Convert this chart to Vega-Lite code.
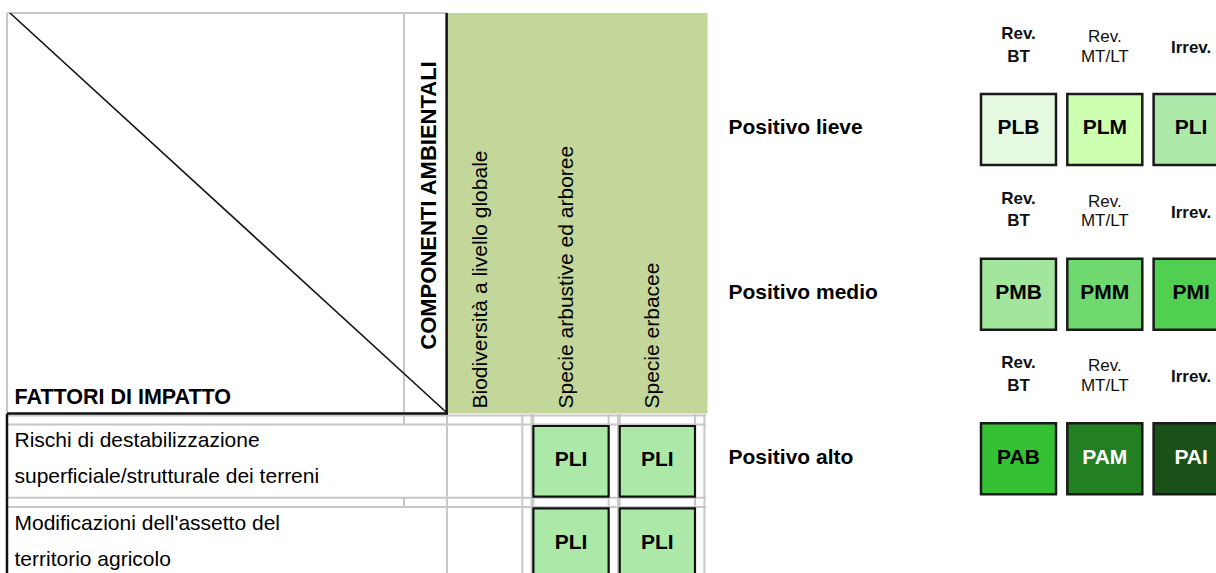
{
  "$schema": "https://vega.github.io/schema/vega-lite/v6.json",
  "width": 1216,
  "height": 573,
  "padding": 0,
  "autosize": {"type": "none"},
  "background": "white",
  "config": {
    "view": {"stroke": null},
    "font": "Liberation Sans",
    "text": {"font": "Liberation Sans", "color": "#000"}
  },
  "datasets": {
    "matrice": [
      {"fattore": "Rischi di destabilizzazione\nsuperficiale/strutturale dei terreni", "componente": "Biodiversità a livello globale", "impatto": null},
      {"fattore": "Rischi di destabilizzazione\nsuperficiale/strutturale dei terreni", "componente": "Specie arbustive ed arboree", "impatto": "PLI"},
      {"fattore": "Rischi di destabilizzazione\nsuperficiale/strutturale dei terreni", "componente": "Specie erbacee", "impatto": "PLI"},
      {"fattore": "Modificazioni dell'assetto del\nterritorio agricolo", "componente": "Biodiversità a livello globale", "impatto": null},
      {"fattore": "Modificazioni dell'assetto del\nterritorio agricolo", "componente": "Specie arbustive ed arboree", "impatto": "PLI"},
      {"fattore": "Modificazioni dell'assetto del\nterritorio agricolo", "componente": "Specie erbacee", "impatto": "PLI"}
    ],
    "legenda": [
      {"intensita": "Positivo lieve", "reversibilita": "Rev. BT", "codice": "PLB"},
      {"intensita": "Positivo lieve", "reversibilita": "Rev. MT/LT", "codice": "PLM"},
      {"intensita": "Positivo lieve", "reversibilita": "Irrev.", "codice": "PLI"},
      {"intensita": "Positivo medio", "reversibilita": "Rev. BT", "codice": "PMB"},
      {"intensita": "Positivo medio", "reversibilita": "Rev. MT/LT", "codice": "PMM"},
      {"intensita": "Positivo medio", "reversibilita": "Irrev.", "codice": "PMI"},
      {"intensita": "Positivo alto", "reversibilita": "Rev. BT", "codice": "PAB"},
      {"intensita": "Positivo alto", "reversibilita": "Rev. MT/LT", "codice": "PAM"},
      {"intensita": "Positivo alto", "reversibilita": "Irrev.", "codice": "PAI"}
    ],
    "cella": [{}]
  },
  "resolve": {"scale": {"x": "independent", "y": "independent"}, "axis": {"x": "independent", "y": "independent"}},
  "layer": [
    {
      "data": {"name": "matrice"},
      "layer": [
        {
          "mark": {"type": "rule", "color": "#C8C8C8", "strokeWidth": 2},
          "encoding": {
            "x": {
              "field": "componente", "type": "nominal", "bandPosition": 0,
              "scale": {"domain": ["Biodiversità a livello globale", "Specie arbustive ed arboree", "Specie erbacee"], "range": [447, 695], "paddingInner": 0.1285, "paddingOuter": 0},
              "axis": {
                "orient": "top", "offset": -408, "domain": false, "ticks": false, "grid": false,
                "labelAngle": 270, "labelAlign": "left", "labelBaseline": "middle", "labelPadding": 0, "labelOffset": -4,
                "labelFont": "Liberation Sans", "labelFontSize": 21, "labelColor": "#000", "labelLimit": 1000, "labelOverlap": false, "labelBound": false, "labelFlush": false,
                "title": "COMPONENTI AMBIENTALI", "titleAngle": 270, "titleX": 428, "titleY": -203, "titleAlign": "center", "titleBaseline": "middle",
                "titleFont": "Liberation Sans", "titleFontSize": 22, "titleFontWeight": "bold", "titleColor": "#000", "zindex": 2
              }
            },
            "y": {
              "field": "fattore", "type": "nominal", "bandPosition": -0.17,
              "scale": {"domain": ["Rischi di destabilizzazione\nsuperficiale/strutturale dei terreni", "Modificazioni dell'assetto del\nterritorio agricolo"], "range": [426, 579], "paddingInner": 0.141, "paddingOuter": 0},
              "axis": {
                "orient": "left", "offset": 0, "domain": false, "ticks": false, "grid": false,
                "labelAlign": "left", "labelBaseline": "middle", "labelPadding": -14, "labelLineHeight": 36, "labelOffset": -20,
                "labelFont": "Liberation Sans", "labelFontSize": 21, "labelColor": "#000", "labelLimit": 1000, "labelOverlap": false, "labelBound": false,
                "labelExpr": "split(datum.label, '\\n')",
                "title": "FATTORI DI IMPATTO", "titleAngle": 0, "titleX": 14, "titleY": 403, "titleAlign": "left", "titleBaseline": "alphabetic",
                "titleFont": "Liberation Sans", "titleFontSize": 21.5, "titleFontWeight": "bold", "titleColor": "#000", "zindex": 2
              }
            },
            "y2": {"field": "fattore", "bandPosition": 1.0}
          }
        },
        {
          "mark": {"type": "rule", "color": "#C8C8C8", "strokeWidth": 2},
          "encoding": {
            "x": {"field": "componente", "type": "nominal", "bandPosition": 1},
            "y": {"field": "fattore", "type": "nominal", "bandPosition": -0.17},
            "y2": {"field": "fattore", "bandPosition": 1.0}
          }
        },
        {
          "mark": {"type": "rule", "color": "#C8C8C8", "strokeWidth": 2},
          "encoding": {
            "x": {"field": "componente", "type": "nominal", "bandPosition": 1.125},
            "y": {"field": "fattore", "type": "nominal", "bandPosition": -0.17},
            "y2": {"field": "fattore", "bandPosition": 1.0}
          }
        },
        {
          "transform": [{"filter": {"field": "componente", "equal": "Biodiversità a livello globale"}}],
          "mark": {"type": "rule", "color": "#C8C8C8", "strokeWidth": 2},
          "encoding": {
            "y": {"field": "fattore", "type": "nominal", "bandPosition": -0.15},
            "x": {"datum": "Biodiversità a livello globale", "type": "nominal", "bandPosition": -5.846},
            "x2": {"datum": "Specie erbacee", "bandPosition": 1.147}
          }
        },
        {
          "transform": [{"filter": {"field": "componente", "equal": "Biodiversità a livello globale"}}],
          "mark": {"type": "rule", "color": "#C8C8C8", "strokeWidth": 2},
          "encoding": {
            "y": {"field": "fattore", "type": "nominal", "bandPosition": -0.02},
            "x": {"datum": "Biodiversità a livello globale", "type": "nominal", "bandPosition": -5.846},
            "x2": {"datum": "Specie erbacee", "bandPosition": 1.147}
          }
        },
        {
          "transform": [{"filter": {"field": "componente", "equal": "Biodiversità a livello globale"}}],
          "mark": {"type": "rule", "color": "#C8C8C8", "strokeWidth": 2},
          "encoding": {
            "x": {"datum": "Biodiversità a livello globale", "type": "nominal", "bandPosition": -0.5713},
            "y": {"field": "fattore", "type": "nominal", "bandPosition": -0.15},
            "y2": {"field": "fattore", "bandPosition": -0.02}
          }
        },
        {
          "transform": [{"filter": {"field": "componente", "equal": "Biodiversità a livello globale"}}],
          "mark": {"type": "rule", "color": "#111", "strokeWidth": 2.5},
          "encoding": {
            "x": {"datum": "Biodiversità a livello globale", "type": "nominal", "bandPosition": -5.846},
            "y": {"field": "fattore", "type": "nominal", "bandPosition": -0.17},
            "y2": {"field": "fattore", "bandPosition": 1.0}
          }
        },
        {
          "data": {"name": "cella"},
          "mark": {"type": "rect", "color": "#C4D79B"},
          "encoding": {
            "x": {"datum": "Biodiversità a livello globale", "type": "nominal", "bandPosition": 0},
            "x2": {"datum": "Specie erbacee", "bandPosition": 1.166},
            "y": {"datum": "Rischi di destabilizzazione\nsuperficiale/strutturale dei terreni", "type": "nominal", "bandPosition": -5.8416},
            "y2": {"datum": "Rischi di destabilizzazione\nsuperficiale/strutturale dei terreni", "bandPosition": -0.1768}
          }
        },
        {
          "data": {"name": "cella"},
          "mark": {"type": "rule", "color": "#C8C8C8", "strokeWidth": 2},
          "encoding": {
            "x": {"datum": "Biodiversità a livello globale", "type": "nominal", "bandPosition": -5.846},
            "x2": {"datum": "Biodiversità a livello globale", "bandPosition": 0},
            "y": {"datum": "Rischi di destabilizzazione\nsuperficiale/strutturale dei terreni", "type": "nominal", "bandPosition": -5.8416}
          }
        },
        {
          "data": {"name": "cella"},
          "mark": {"type": "rule", "color": "#C8C8C8", "strokeWidth": 2},
          "encoding": {
            "x": {"datum": "Biodiversità a livello globale", "type": "nominal", "bandPosition": -5.846},
            "y": {"datum": "Rischi di destabilizzazione\nsuperficiale/strutturale dei terreni", "type": "nominal", "bandPosition": -5.8416},
            "y2": {"datum": "Rischi di destabilizzazione\nsuperficiale/strutturale dei terreni", "bandPosition": -0.17}
          }
        },
        {
          "data": {"name": "cella"},
          "mark": {"type": "rule", "color": "#C8C8C8", "strokeWidth": 2},
          "encoding": {
            "x": {"datum": "Biodiversità a livello globale", "type": "nominal", "bandPosition": -0.5713},
            "y": {"datum": "Rischi di destabilizzazione\nsuperficiale/strutturale dei terreni", "type": "nominal", "bandPosition": -5.8416},
            "y2": {"datum": "Rischi di destabilizzazione\nsuperficiale/strutturale dei terreni", "bandPosition": -0.17}
          }
        },
        {
          "data": {"name": "cella"},
          "mark": {"type": "rule", "color": "#111", "strokeWidth": 2.5},
          "encoding": {
            "x": {"datum": "Biodiversità a livello globale", "type": "nominal", "bandPosition": -0.005},
            "y": {"datum": "Rischi di destabilizzazione\nsuperficiale/strutturale dei terreni", "type": "nominal", "bandPosition": -5.8416},
            "y2": {"datum": "Rischi di destabilizzazione\nsuperficiale/strutturale dei terreni", "bandPosition": -0.165}
          }
        },
        {
          "data": {"name": "cella"},
          "mark": {"type": "rule", "color": "#111", "strokeWidth": 2.5},
          "encoding": {
            "x": {"datum": "Biodiversità a livello globale", "type": "nominal", "bandPosition": -5.846},
            "x2": {"datum": "Biodiversità a livello globale", "bandPosition": 0.012},
            "y": {"datum": "Rischi di destabilizzazione\nsuperficiale/strutturale dei terreni", "type": "nominal", "bandPosition": -0.1768}
          }
        },
        {
          "data": {"name": "cella"},
          "mark": {"type": "rule", "color": "#111", "strokeWidth": 1.6},
          "encoding": {
            "x": {"datum": "Biodiversità a livello globale", "type": "nominal", "bandPosition": -5.806},
            "x2": {"datum": "Biodiversità a livello globale", "bandPosition": -0.0133},
            "y": {"datum": "Rischi di destabilizzazione\nsuperficiale/strutturale dei terreni", "type": "nominal", "bandPosition": -5.8416},
            "y2": {"datum": "Rischi di destabilizzazione\nsuperficiale/strutturale dei terreni", "bandPosition": -0.198}
          }
        },
        {
          "transform": [{"filter": "isValid(datum.impatto)"}],
          "mark": {"type": "rect", "stroke": "#111", "strokeWidth": 2.2},
          "encoding": {
            "x": {"field": "componente", "type": "nominal"},
            "y": {"field": "fattore", "type": "nominal"},
            "fill": {
              "field": "impatto", "type": "nominal", "legend": null,
              "scale": {"domain": ["PLB", "PLM", "PLI", "PMB", "PMM", "PMI", "PAB", "PAM", "PAI"], "range": ["#E5F9E0", "#CCFFB0", "#ACE9A9", "#A2E59D", "#6FD96F", "#50CF50", "#34C234", "#227F22", "#195119"]}
            }
          }
        },
        {
          "transform": [{"filter": "isValid(datum.impatto)"}],
          "mark": {"type": "text", "fontSize": 21, "fontWeight": "bold", "baseline": "middle", "dy": -1},
          "encoding": {
            "x": {"field": "componente", "type": "nominal"},
            "y": {"field": "fattore", "type": "nominal"},
            "text": {"field": "impatto"},
            "color": {
              "field": "impatto", "type": "nominal", "legend": null,
              "scale": {"domain": ["PLB", "PLM", "PLI", "PMB", "PMM", "PMI", "PAB", "PAM", "PAI"], "range": ["#000", "#000", "#000", "#000", "#000", "#000", "#000", "#fff", "#fff"]}
            }
          }
        }
      ]
    },
    {
      "data": {"name": "legenda"},
      "layer": [
        {
          "mark": {"type": "rect", "stroke": "#1a1a1a", "strokeWidth": 2.5},
          "encoding": {
            "x": {
              "field": "reversibilita", "type": "nominal",
              "scale": {"domain": ["Rev. BT", "Rev. MT/LT", "Irrev."], "range": [981, 1228.6], "paddingInner": 0.131, "paddingOuter": 0},
              "axis": null
            },
            "y": {
              "field": "intensita", "type": "nominal",
              "scale": {"domain": ["Positivo lieve", "Positivo medio", "Positivo alto"], "range": [94, 494.3], "paddingInner": 0.569, "paddingOuter": 0},
              "axis": {
                "orient": "left", "offset": -728, "domain": false, "ticks": false, "grid": false,
                "labelAlign": "left", "labelBaseline": "middle", "labelPadding": 0, "labelOffset": -1,
                "labelFont": "Liberation Sans", "labelFontSize": 21, "labelFontWeight": "bold", "labelColor": "#000", "labelLimit": 1000, "labelOverlap": false, "labelBound": false,
                "title": null, "zindex": 2
              }
            },
            "fill": {
              "field": "codice", "type": "nominal", "legend": null,
              "scale": {"domain": ["PLB", "PLM", "PLI", "PMB", "PMM", "PMI", "PAB", "PAM", "PAI"], "range": ["#E5F9E0", "#CCFFB0", "#ACE9A9", "#A2E59D", "#6FD96F", "#50CF50", "#34C234", "#227F22", "#195119"]}
            }
          }
        },
        {
          "mark": {"type": "text", "fontSize": 21, "fontWeight": "bold", "baseline": "middle", "dy": -1},
          "encoding": {
            "x": {"field": "reversibilita", "type": "nominal", "axis": null},
            "y": {"field": "intensita", "type": "nominal"},
            "text": {"field": "codice"},
            "color": {
              "field": "codice", "type": "nominal", "legend": null,
              "scale": {"domain": ["PLB", "PLM", "PLI", "PMB", "PMM", "PMI", "PAB", "PAM", "PAI"], "range": ["#000", "#000", "#000", "#000", "#000", "#000", "#000", "#fff", "#fff"]}
            }
          }
        },
        {
          "transform": [
            {"filter": "datum.reversibilita === 'Rev. BT'"},
            {"calculate": "split(datum.reversibilita, ' ')", "as": "intestazione"}
          ],
          "mark": {"type": "text", "fontSize": 17, "fontWeight": "bold", "baseline": "middle", "lineHeight": 22.5, "dy": -60, "color": "#111"},
          "encoding": {
            "x": {"field": "reversibilita", "type": "nominal", "axis": null},
            "y": {"field": "intensita", "type": "nominal", "bandPosition": 0},
            "text": {"field": "intestazione"}
          }
        },
        {
          "transform": [
            {"filter": "datum.reversibilita === 'Rev. MT/LT'"},
            {"calculate": "split(datum.reversibilita, ' ')", "as": "intestazione"}
          ],
          "mark": {"type": "text", "fontSize": 17, "fontWeight": "normal", "baseline": "middle", "lineHeight": 19.5, "dy": -57, "color": "#111"},
          "encoding": {
            "x": {"field": "reversibilita", "type": "nominal", "axis": null},
            "y": {"field": "intensita", "type": "nominal", "bandPosition": 0},
            "text": {"field": "intestazione"}
          }
        },
        {
          "transform": [
            {"filter": "datum.reversibilita === 'Irrev.'"}
          ],
          "mark": {"type": "text", "fontSize": 17, "fontWeight": "bold", "baseline": "middle", "dy": -46, "color": "#111"},
          "encoding": {
            "x": {"field": "reversibilita", "type": "nominal", "axis": null},
            "y": {"field": "intensita", "type": "nominal", "bandPosition": 0},
            "text": {"field": "reversibilita"}
          }
        }
      ]
    }
  ]
}
